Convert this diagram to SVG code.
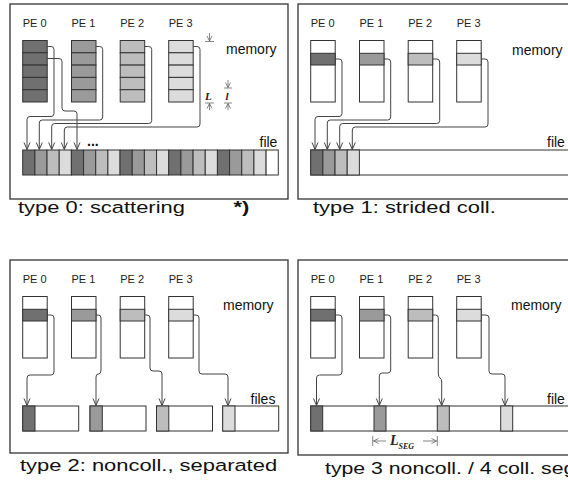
<svg xmlns="http://www.w3.org/2000/svg" width="568" height="486" viewBox="0 0 568 486">
<defs>
<style>
.frame{fill:#fff;stroke:#333;stroke-width:1.3}
.m{stroke:#333;stroke-width:1}
.w{fill:#fff}
.c0{fill:#707070}.c1{fill:#9a9a9a}.c2{fill:#bdbdbd}.c3{fill:#dcdcdc}
.conn{fill:none;stroke:#444;stroke-width:1;marker-end:url(#ah)}
.dim{fill:none;stroke:#666;stroke-width:0.8}
.dima{fill:none;stroke:#666;stroke-width:0.8;marker-end:url(#ahs)}
.pe{font-family:"Liberation Sans",Arial,sans-serif;font-size:11px;fill:#222}
.lbl{font-family:"Liberation Sans",Arial,sans-serif;font-size:14px;fill:#111}
.cap{font-family:"Liberation Sans",Arial,sans-serif;font-size:17px;fill:#111}
.sym{font-family:"Liberation Serif","Times New Roman",serif;font-weight:bold;font-style:italic;fill:#222}
</style>
<marker id="ah" markerUnits="userSpaceOnUse" orient="auto" refX="0" refY="0" markerWidth="10" markerHeight="10" overflow="visible">
<path d="M-7,-3 L0,0 L-7,3" fill="none" stroke="#444" stroke-width="1"/>
</marker>
<marker id="ahs" markerUnits="userSpaceOnUse" orient="auto" refX="0" refY="0" markerWidth="8" markerHeight="8" overflow="visible">
<path d="M-5,-2.5 L0,0 L-5,2.5" fill="none" stroke="#666" stroke-width="0.8"/>
</marker>
</defs>
<rect width="568" height="486" fill="#fff"/>

<!-- Panel 1: type 0 -->
<g id="panel0">
<rect class="frame" x="10" y="4" width="278" height="195"/>
<g id="p0-pe0"><text class="pe" x="22.7" y="26.5">PE 0</text>
<rect class="m c0" x="22.7" y="40.5" width="24.5" height="12.3"/><rect class="m c0" x="22.7" y="52.8" width="24.5" height="12.3"/><rect class="m c0" x="22.7" y="65.1" width="24.5" height="12.3"/><rect class="m c0" x="22.7" y="77.4" width="24.5" height="12.3"/><rect class="m c0" x="22.7" y="89.7" width="24.5" height="12.3"/></g>
<g id="p0-pe1"><text class="pe" x="71.5" y="26.5">PE 1</text>
<rect class="m c1" x="71.5" y="40.5" width="24.5" height="12.3"/><rect class="m c1" x="71.5" y="52.8" width="24.5" height="12.3"/><rect class="m c1" x="71.5" y="65.1" width="24.5" height="12.3"/><rect class="m c1" x="71.5" y="77.4" width="24.5" height="12.3"/><rect class="m c1" x="71.5" y="89.7" width="24.5" height="12.3"/></g>
<g id="p0-pe2"><text class="pe" x="120.2" y="26.5">PE 2</text>
<rect class="m c2" x="120.2" y="40.5" width="24.5" height="12.3"/><rect class="m c2" x="120.2" y="52.8" width="24.5" height="12.3"/><rect class="m c2" x="120.2" y="65.1" width="24.5" height="12.3"/><rect class="m c2" x="120.2" y="77.4" width="24.5" height="12.3"/><rect class="m c2" x="120.2" y="89.7" width="24.5" height="12.3"/></g>
<g id="p0-pe3"><text class="pe" x="168.7" y="26.5">PE 3</text>
<rect class="m c3" x="168.7" y="40.5" width="24.5" height="12.3"/><rect class="m c3" x="168.7" y="52.8" width="24.5" height="12.3"/><rect class="m c3" x="168.7" y="65.1" width="24.5" height="12.3"/><rect class="m c3" x="168.7" y="77.4" width="24.5" height="12.3"/><rect class="m c3" x="168.7" y="89.7" width="24.5" height="12.3"/></g>
<g id="p0-file">
<rect class="m c0" x="22.7" y="150" width="12.17" height="25"/><rect class="m c1" x="34.87" y="150" width="12.17" height="25"/><rect class="m c2" x="47.04" y="150" width="12.17" height="25"/><rect class="m c3" x="59.21" y="150" width="12.17" height="25"/>
<rect class="m c0" x="71.38" y="150" width="12.17" height="25"/><rect class="m c1" x="83.55" y="150" width="12.17" height="25"/><rect class="m c2" x="95.72" y="150" width="12.17" height="25"/><rect class="m c3" x="107.89" y="150" width="12.17" height="25"/>
<rect class="m c0" x="120.06" y="150" width="12.17" height="25"/><rect class="m c1" x="132.23" y="150" width="12.17" height="25"/><rect class="m c2" x="144.4" y="150" width="12.17" height="25"/><rect class="m c3" x="156.57" y="150" width="12.17" height="25"/>
<rect class="m c0" x="168.74" y="150" width="12.17" height="25"/><rect class="m c1" x="180.91" y="150" width="12.17" height="25"/><rect class="m c2" x="193.08" y="150" width="12.17" height="25"/><rect class="m c3" x="205.25" y="150" width="12.17" height="25"/>
<rect class="m c0" x="217.42" y="150" width="12.17" height="25"/><rect class="m c1" x="229.59" y="150" width="12.17" height="25"/><rect class="m c2" x="241.76" y="150" width="12.17" height="25"/><rect class="m c3" x="253.93" y="150" width="12.17" height="25"/>
<rect class="m w" x="266.1" y="150" width="12.17" height="25"/>
<text class="lbl" x="87" y="146" font-weight="bold" font-size="12">...</text>
<text class="lbl" x="259.5" y="147">file</text></g>
<text class="lbl" x="226" y="54">memory</text>
<g id="p0-dims">
<path class="dima" d="M209.5,33 V41"/><path class="dim" d="M205,41.5 H214"/>
<text class="sym" x="205" y="100" font-size="11">L</text>
<path class="dim" d="M205,103 H214"/><path class="dima" d="M209.5,110 V103.5"/>
<path class="dima" d="M228,80 V87.5"/><path class="dim" d="M224,88 H232"/>
<text class="sym" x="225.5" y="100" font-size="11">l</text>
<path class="dim" d="M224,103 H232"/><path class="dima" d="M228,110 V103.5"/>
</g>
</g>

<!-- Panel 2: type 1 -->
<g id="panel1">
<rect class="frame" x="298" y="4" width="280" height="195"/>
<g id="p1-pe0"><text class="pe" x="310.7" y="26.5">PE 0</text><rect class="m w" x="310.7" y="40.5" width="24.5" height="61.5"/><rect class="m c0" x="310.7" y="53.3" width="24.5" height="11.7"/></g>
<g id="p1-pe1"><text class="pe" x="359.5" y="26.5">PE 1</text><rect class="m w" x="359.5" y="40.5" width="24.5" height="61.5"/><rect class="m c1" x="359.5" y="53.3" width="24.5" height="11.7"/></g>
<g id="p1-pe2"><text class="pe" x="408.2" y="26.5">PE 2</text><rect class="m w" x="408.2" y="40.5" width="24.5" height="61.5"/><rect class="m c2" x="408.2" y="53.3" width="24.5" height="11.7"/></g>
<g id="p1-pe3"><text class="pe" x="456.7" y="26.5">PE 3</text><rect class="m w" x="456.7" y="40.5" width="24.5" height="61.5"/><rect class="m c3" x="456.7" y="53.3" width="24.5" height="11.7"/></g>
<g id="p1-file">
<rect class="m w" x="310.7" y="150" width="270" height="25"/>
<rect class="m c0" x="310.7" y="150" width="12.17" height="25"/><rect class="m c1" x="322.87" y="150" width="12.17" height="25"/><rect class="m c2" x="335.04" y="150" width="12.17" height="25"/><rect class="m c3" x="347.21" y="150" width="12.17" height="25"/>
<text class="lbl" x="547" y="147">file</text></g>
<text class="lbl" x="512" y="55">memory</text>
</g>

<!-- Panel 3: type 2 -->
<g id="panel2">
<rect class="frame" x="10" y="260" width="278" height="193"/>
<g id="p2-pe0"><text class="pe" x="22.7" y="282.5">PE 0</text><rect class="m w" x="22.7" y="296.5" width="24.5" height="61.5"/><rect class="m c0" x="22.7" y="309.3" width="24.5" height="11.7"/></g>
<g id="p2-pe1"><text class="pe" x="71.5" y="282.5">PE 1</text><rect class="m w" x="71.5" y="296.5" width="24.5" height="61.5"/><rect class="m c1" x="71.5" y="309.3" width="24.5" height="11.7"/></g>
<g id="p2-pe2"><text class="pe" x="120.2" y="282.5">PE 2</text><rect class="m w" x="120.2" y="296.5" width="24.5" height="61.5"/><rect class="m c2" x="120.2" y="309.3" width="24.5" height="11.7"/></g>
<g id="p2-pe3"><text class="pe" x="168.7" y="282.5">PE 3</text><rect class="m w" x="168.7" y="296.5" width="24.5" height="61.5"/><rect class="m c3" x="168.7" y="309.3" width="24.5" height="11.7"/></g>
<g id="p2-files">
<rect class="m w" x="22.7" y="406" width="56" height="25"/><rect class="m c0" x="22.7" y="406" width="12.3" height="25"/>
<rect class="m w" x="90" y="406" width="56" height="25"/><rect class="m c1" x="90" y="406" width="12.3" height="25"/>
<rect class="m w" x="156.5" y="406" width="56" height="25"/><rect class="m c2" x="156.5" y="406" width="12.3" height="25"/>
<rect class="m w" x="222.7" y="406" width="56" height="25"/><rect class="m c3" x="222.7" y="406" width="12.3" height="25"/>
<text class="lbl" x="250.5" y="404">files</text></g>
<text class="lbl" x="223" y="310">memory</text>
</g>

<!-- Panel 4: type 3/4 -->
<g id="panel3">
<rect class="frame" x="298" y="260" width="280" height="195"/>
<g id="p3-pe0"><text class="pe" x="310.7" y="282.5">PE 0</text><rect class="m w" x="310.7" y="296.5" width="24.5" height="61.5"/><rect class="m c0" x="310.7" y="309.3" width="24.5" height="11.7"/></g>
<g id="p3-pe1"><text class="pe" x="359.5" y="282.5">PE 1</text><rect class="m w" x="359.5" y="296.5" width="24.5" height="61.5"/><rect class="m c1" x="359.5" y="309.3" width="24.5" height="11.7"/></g>
<g id="p3-pe2"><text class="pe" x="408.2" y="282.5">PE 2</text><rect class="m w" x="408.2" y="296.5" width="24.5" height="61.5"/><rect class="m c2" x="408.2" y="309.3" width="24.5" height="11.7"/></g>
<g id="p3-pe3"><text class="pe" x="456.7" y="282.5">PE 3</text><rect class="m w" x="456.7" y="296.5" width="24.5" height="61.5"/><rect class="m c3" x="456.7" y="309.3" width="24.5" height="11.7"/></g>
<g id="p3-file">
<rect class="m w" x="310.7" y="406" width="270" height="25"/>
<rect class="m c0" x="310.7" y="406" width="12" height="25"/><rect class="m c1" x="374" y="406" width="12" height="25"/><rect class="m c2" x="437.3" y="406" width="12" height="25"/><rect class="m c3" x="500.7" y="406" width="12" height="25"/>
<text class="lbl" x="547" y="404">file</text></g>
<text class="lbl" x="511" y="310">memory</text>
<g id="p3-lseg">
<path class="dim" d="M372.7,436 V446 M437.3,436 V446"/>
<path class="dima" d="M386,441 H373.5"/><path class="dima" d="M423,441 H436.5"/>
<text class="sym" x="390" y="445" font-size="14">L<tspan font-size="8" dy="3.5">SEG</tspan></text>
</g>
</g>

<!-- Connectors -->
<g id="connectors">
<path class="conn" d="M47.2,46.5 H51 Q54,46.5 54,49.5 V113.5 Q54,116.5 51,116.5 H30 Q27,116.5 27,119.5 V149.5"/>
<path class="conn" d="M47.2,58.5 H59 Q62,58.5 62,61.5 V108 Q62,111 65,111 H74 Q77,111 77,114 V149.5"/>
<path class="conn" d="M96,46.5 H99.7 Q102.7,46.5 102.7,49.5 V117 Q102.7,120 99.7,120 H42.3 Q39.3,120 39.3,123 V149.5"/>
<path class="conn" d="M144.7,46.5 H148.7 Q151.7,46.5 151.7,49.5 V120.5 Q151.7,123.5 148.7,123.5 H54.7 Q51.7,123.5 51.7,126.5 V149.5"/>
<path class="conn" d="M193.2,46.5 H197 Q200,46.5 200,49.5 V124 Q200,127 197,127 H67.3 Q64.3,127 64.3,130 V149.5"/>

<path class="conn" d="M335.2,59 H339 Q342,59 342,62 V113.5 Q342,116.5 339,116.5 H318 Q315,116.5 315,119.5 V149.5"/>
<path class="conn" d="M384,59 H387.7 Q390.7,59 390.7,62 V117 Q390.7,120 387.7,120 H330.3 Q327.3,120 327.3,123 V149.5"/>
<path class="conn" d="M432.7,59 H436.7 Q439.7,59 439.7,62 V120.5 Q439.7,123.5 436.7,123.5 H342.7 Q339.7,123.5 339.7,126.5 V149.5"/>
<path class="conn" d="M481.2,59 H485 Q488,59 488,62 V124 Q488,127 485,127 H355.3 Q352.3,127 352.3,130 V149.5"/>

<path class="conn" d="M47.2,315 H51 Q54,315 54,318 V372 Q54,375 51,375 H30 Q27,375 27,378 V405.5"/>
<path class="conn" d="M96,315 H98 Q101,315 101,318 V370 Q101,374 98.5,374 Q96,374 96,377 V405.5"/>
<path class="conn" d="M144.7,315 H147 Q150,315 150,318 V368 Q150,371 153,371 H159 Q162,371 162,374 V405.5"/>
<path class="conn" d="M193.2,315 H196 Q199,315 199,318 V371 Q199,374 202,374 H225 Q228,374 228,377 V405.5"/>

<path class="conn" d="M335.2,315 H339 Q342,315 342,318 V372 Q342,375 339,375 H319.5 Q316.5,375 316.5,378 V405.5"/>
<path class="conn" d="M384,315 H387.7 Q390.7,315 390.7,318 V370 Q390.7,373 387.7,373 H382.3 Q379.3,373 379.3,376 V405.5"/>
<path class="conn" d="M432.7,315 H435.3 Q438.3,315 438.3,318 V373 Q438.3,377 440,378 Q441.7,379 441.7,382 V405.5"/>
<path class="conn" d="M481.2,315 H486 Q489,315 489,318 V371 Q489,374 492,374 H502 Q505,374 505,377 V405.5"/>
</g>

<!-- Captions -->
<g id="captions">
<text class="cap" transform="translate(18,213) scale(1.29,1)">type 0: scattering<tspan x="167" font-weight="bold">*)</tspan></text>
<text class="cap" transform="translate(313,213) scale(1.29,1)">type 1: strided coll.</text>
<text class="cap" transform="translate(20,471) scale(1.29,1)">type 2: noncoll., separated</text>
<text class="cap" transform="translate(325,474) scale(1.25,1)">type 3 noncoll. / 4 coll. seg</text>
</g>
</svg>
